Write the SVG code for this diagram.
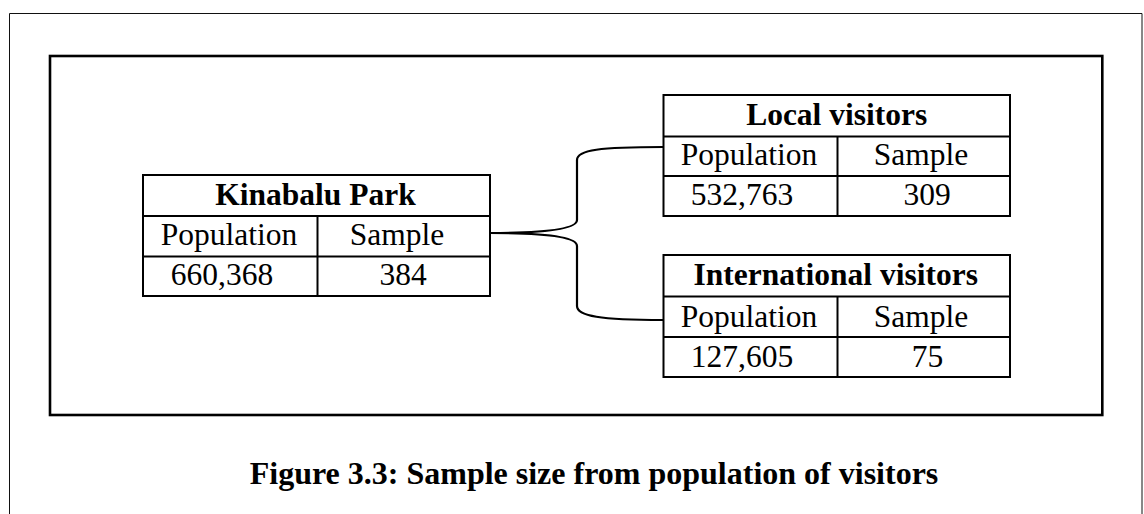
<svg xmlns="http://www.w3.org/2000/svg" width="1144" height="514" viewBox="0 0 1144 514">
  <style>
    .frame { fill: none; stroke: #111; stroke-width: 1; }
    .panel { fill: none; stroke: #000; stroke-width: 2.6; }
    .cell { fill: #fff; stroke: #000; stroke-width: 2; }
    .rule { stroke: #000; stroke-width: 2; }
    .link { fill: none; stroke: #000; stroke-width: 2.2; }
    text { font-family: "Liberation Serif", "Times New Roman", serif; font-size: 31.5px; fill: #000; text-anchor: middle; }
    .head { font-weight: bold; }
    .caption { font-weight: bold; font-size: 32px; }
  </style>

  <rect width="1144" height="514" fill="#fff"/>

  <!-- page border -->
  <path class="frame" d="M9.5,520 V13.5 H1142 V520"/>

  <!-- figure panel -->
  <rect class="panel" x="50" y="56" width="1052.3" height="359"/>

  <!-- connectors: brace from the park table to both visitor tables -->
  <g id="connectors">
    <path class="link" d="M490,233 C540,233 577,230 577,220 L577,160 C577,150 600,147 663,147"/>
    <path class="link" d="M490,233 C540,233 577,236 577,246 L577,306 C577,316 600,320 663,320"/>
  </g>

  <!-- Kinabalu Park -->
  <g id="kinabalu-park">
    <rect class="cell" x="143" y="175" width="347" height="121"/>
    <line class="rule" x1="143" y1="216" x2="490" y2="216"/>
    <line class="rule" x1="143" y1="256.5" x2="490" y2="256.5"/>
    <line class="rule" x1="317.5" y1="216" x2="317.5" y2="296"/>
    <text class="head" x="315.5" y="205">Kinabalu Park</text>
    <text x="229" y="245">Population</text>
    <text x="397" y="245">Sample</text>
    <text x="222" y="285">660,368</text>
    <text x="403" y="285">384</text>
  </g>

  <!-- Local visitors -->
  <g id="local-visitors">
    <rect class="cell" x="663.5" y="95" width="346.5" height="121"/>
    <line class="rule" x1="663.5" y1="136.5" x2="1010" y2="136.5"/>
    <line class="rule" x1="663.5" y1="176" x2="1010" y2="176"/>
    <line class="rule" x1="837.5" y1="136.5" x2="837.5" y2="216"/>
    <text class="head" x="836.7" y="124.5">Local visitors</text>
    <text x="749" y="165">Population</text>
    <text x="921" y="165">Sample</text>
    <text x="742" y="204.5">532,763</text>
    <text x="927" y="204.5">309</text>
  </g>

  <!-- International visitors -->
  <g id="international-visitors">
    <rect class="cell" x="663.5" y="255" width="346.5" height="122"/>
    <line class="rule" x1="663.5" y1="296.5" x2="1010" y2="296.5"/>
    <line class="rule" x1="663.5" y1="337" x2="1010" y2="337"/>
    <line class="rule" x1="837.5" y1="296.5" x2="837.5" y2="377"/>
    <text class="head" x="835.8" y="285">International visitors</text>
    <text x="749" y="326.5">Population</text>
    <text x="921" y="326.5">Sample</text>
    <text x="742" y="366.5">127,605</text>
    <text x="927.5" y="366.5">75</text>
  </g>

  <text class="caption" x="594" y="484">Figure 3.3: Sample size from population of visitors</text>
</svg>
